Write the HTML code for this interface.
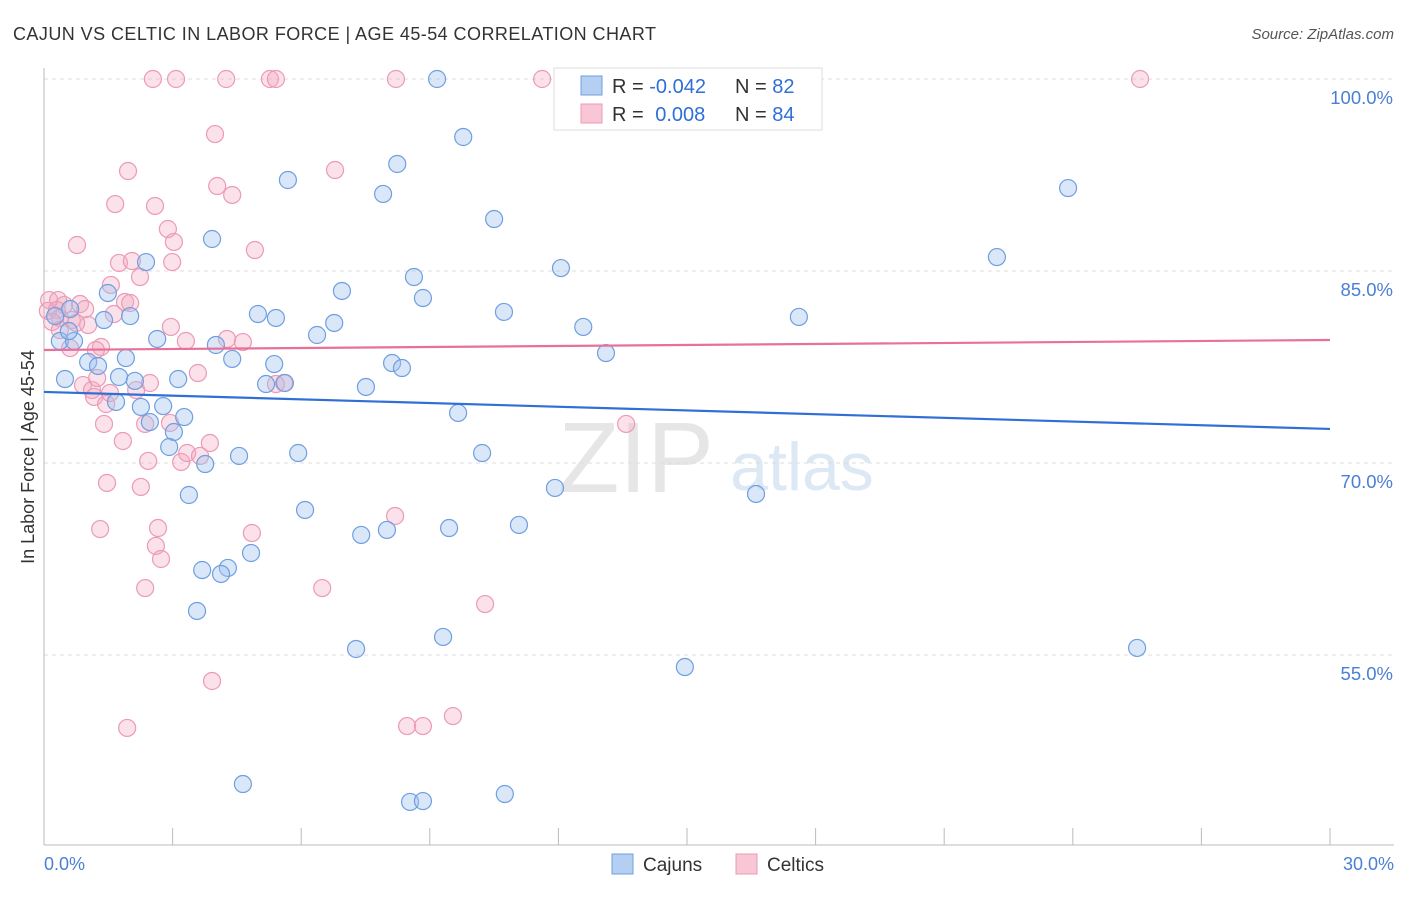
<!DOCTYPE html>
<html><head><meta charset="utf-8"><style>
body{margin:0;background:#fff;font-family:"Liberation Sans",sans-serif}
svg text{font-family:"Liberation Sans",sans-serif}
</style></head><body>
<svg id="chart" width="1406" height="892">
<text x="13" y="40" font-size="18" fill="#333" textLength="643">CAJUN VS CELTIC IN LABOR FORCE | AGE 45-54 CORRELATION CHART</text>
<text x="1394" y="39" font-size="15" fill="#555" font-style="italic" text-anchor="end">Source: ZipAtlas.com</text>
<text x="636" y="492" font-size="100" fill="#e6e6e6" font-family="Liberation Serif" text-anchor="middle">ZIP</text>
<text x="802" y="490" font-size="68" fill="#dde8f5" text-anchor="middle">atlas</text>
<g id="grid"></g><g id="axes"></g><g id="pts"></g><g id="trend"></g>
<text transform="translate(34,457) rotate(-90)" font-size="18" fill="#333" text-anchor="middle">In Labor Force | Age 45-54</text>
<text x="44" y="870" font-size="18" fill="#4a7fd4">0.0%</text>
<text x="1394" y="870" font-size="18" fill="#4a7fd4" text-anchor="end">30.0%</text>
<g>
<rect x="554" y="68" width="268" height="62" fill="#fff" stroke="#ddd"/>
<rect x="581" y="76" width="21" height="19" fill="#b5cff2" stroke="#6f9fe0"/>
<rect x="581" y="104" width="21" height="19" fill="#f8c6d5" stroke="#ec9ab5"/>
<text x="612" y="93" font-size="20" fill="#333">R = <tspan fill="#2f6fd6">-0.042</tspan></text>
<text x="735" y="93" font-size="20" fill="#333">N = <tspan fill="#2f6fd6">82</tspan></text>
<text x="612" y="121" font-size="20" fill="#333">R =  <tspan fill="#2f6fd6" dx="6">0.008</tspan></text>
<text x="735" y="121" font-size="20" fill="#333">N = <tspan fill="#2f6fd6">84</tspan></text>
</g>
<g>
<rect x="612" y="854" width="21" height="20" fill="#b5cff2" stroke="#6f9fe0"/>
<text x="643" y="871" font-size="19" fill="#333">Cajuns</text>
<rect x="736" y="854" width="21" height="20" fill="#f8c6d5" stroke="#ec9ab5"/>
<text x="767" y="871" font-size="19" fill="#333">Celtics</text>
</g>
</svg>
<script>
const yTicks=[100,85,70,55];
const yTickLabels=["100.0%","85.0%","70.0%","55.0%"];
const xTicks=[0,3,6,9,12,15,18,21,24,27,30];
const cajunX=[9.17,12.23,9.78,8.24,5.69,7.91,23.89,10.5,3.92,22.23,2.38,12.06,8.63,1.49,6.95,8.84,4.99,5.41,10.73,17.61,2.01,1.4,6.77,12.58,6.37,2.64,0.37,0.7,0.58,4.01,13.11,1.91,4.39,1.03,8.12,1.26,8.35,5.37,0.49,1.75,3.13,2.12,5.18,5.62,7.51,1.68,2.78,2.26,3.27,9.66,2.47,3.03,2.92,4.55,5.93,10.22,3.76,11.92,16.61,3.38,6.09,11.08,9.45,8.0,7.4,4.83,3.69,4.29,4.13,3.57,9.31,7.28,14.95,25.5,4.64,8.54,8.84,10.75,0.26,0.61];
const cajunY=[100,100,95.47,93.36,92.11,91.02,91.48,89.06,87.5,86.09,85.7,85.23,84.53,83.28,83.44,82.89,81.64,81.33,81.8,81.41,81.48,81.17,80.94,80.63,80.0,79.69,79.53,79.53,80.31,79.22,78.59,78.2,78.13,77.89,77.81,77.58,77.42,77.73,76.56,76.72,76.56,76.41,76.17,76.25,75.94,74.77,74.45,74.38,73.59,73.91,73.2,72.42,71.25,70.55,70.78,70.78,69.92,68.05,67.58,67.5,66.33,65.16,64.92,64.77,64.38,62.97,61.64,61.8,61.33,58.44,56.41,55.47,54.06,55.55,44.92,43.52,43.59,44.14,81.48,82.03];
const celticX=[2.54,3.08,4.25,5.27,5.41,8.21,11.62,25.57,3.99,1.96,6.79,4.04,4.39,1.66,2.59,2.89,0.77,3.03,4.92,1.75,2.05,2.99,2.24,1.56,0.12,0.33,0.47,0.09,0.84,0.96,0.65,0.3,1.03,1.63,1.89,2.01,2.96,3.31,4.27,4.64,0.61,1.33,3.59,2.47,0.91,1.12,1.17,2.15,1.45,5.6,2.36,1.4,1.84,2.43,3.2,3.34,3.87,13.58,1.47,2.26,8.19,2.66,4.85,1.31,2.61,2.73,2.36,6.49,10.29,3.92,1.94,8.47,8.84,9.54,0.37,0.19,1.24,1.54,2.94,3.64,5.41,0.75,0.37,1.21];
const celticY=[100,100,100,100,100,100,100,100,95.7,92.81,92.89,91.64,90.94,90.23,90.08,88.28,87.03,87.27,86.64,85.63,85.78,85.7,84.53,83.91,82.73,82.73,82.34,81.88,82.42,82.03,81.17,81.95,80.78,81.64,82.58,82.5,80.63,79.53,79.69,79.45,78.98,79.06,77.03,76.25,76.09,75.7,75.16,75.7,74.61,76.25,73.05,73.05,71.72,70.16,70.08,70.78,71.56,73.05,68.44,68.13,65.86,64.92,64.53,64.84,63.52,62.5,60.23,60.23,58.98,52.97,49.3,49.45,49.45,50.23,81.33,81.02,76.64,75.47,73.13,70.55,76.17,80.94,80.39,78.83];
const cajunTrend=[75.55,72.66];
const celticTrend=[78.83,79.61];
const NS="http://www.w3.org/2000/svg";
const X0=44,X1=1330,YTOP=79,PER=12.8;
function sx(v){return X0+(v/30)*(X1-X0);}
function sy(v){return YTOP+(100-v)*PER;}
function mk(tag,attrs,parent){const e=document.createElementNS(NS,tag);for(const k in attrs)e.setAttribute(k,attrs[k]);document.getElementById(parent).appendChild(e);return e;}
yTicks.forEach((t,i)=>{
 const l=mk('line',{x1:X0,x2:1394,y1:sy(t),y2:sy(t),stroke:'#ddd','stroke-dasharray':'4,4'},'grid');
 
 
 const tx=mk('text',{x:1393,y:sy(t)+25,'font-size':18.5,fill:'#4a7fd4','text-anchor':'end'},'grid');
 tx.textContent=yTickLabels[i];
 
 
});
const ya=mk('line',{x1:X0,x2:X0,y1:68,y2:845,stroke:'#bbb'},'axes');


const xa=mk('line',{x1:X0,x2:1394,y1:845,y2:845,stroke:'#bbb'},'axes');


xTicks.forEach(t=>{
 const l=mk('line',{x1:sx(t),x2:sx(t),y1:828,y2:845,stroke:'#bbb'},'axes');
 
 
});
celticX.forEach((x,i)=>{
 const c=mk('circle',{cx:sx(x),cy:sy(celticY[i]),r:8.5,fill:'rgba(244,168,192,0.35)',stroke:'#ec9ab5','stroke-width':1.2},'pts');
 
 
});
cajunX.forEach((x,i)=>{
 const c=mk('circle',{cx:sx(x),cy:sy(cajunY[i]),r:8.5,fill:'rgba(160,196,240,0.4)',stroke:'#6f9fe0','stroke-width':1.2},'pts');
 
 
});
const tb=mk('line',{x1:sx(0),x2:sx(30),y1:sy(cajunTrend[0]),y2:sy(cajunTrend[1]),stroke:'#2f6fd6','stroke-width':2.2},'trend');


const tp=mk('line',{x1:sx(0),x2:sx(30),y1:sy(celticTrend[0]),y2:sy(celticTrend[1]),stroke:'#e8709a','stroke-width':2.2},'trend');


</script>
</body></html>
